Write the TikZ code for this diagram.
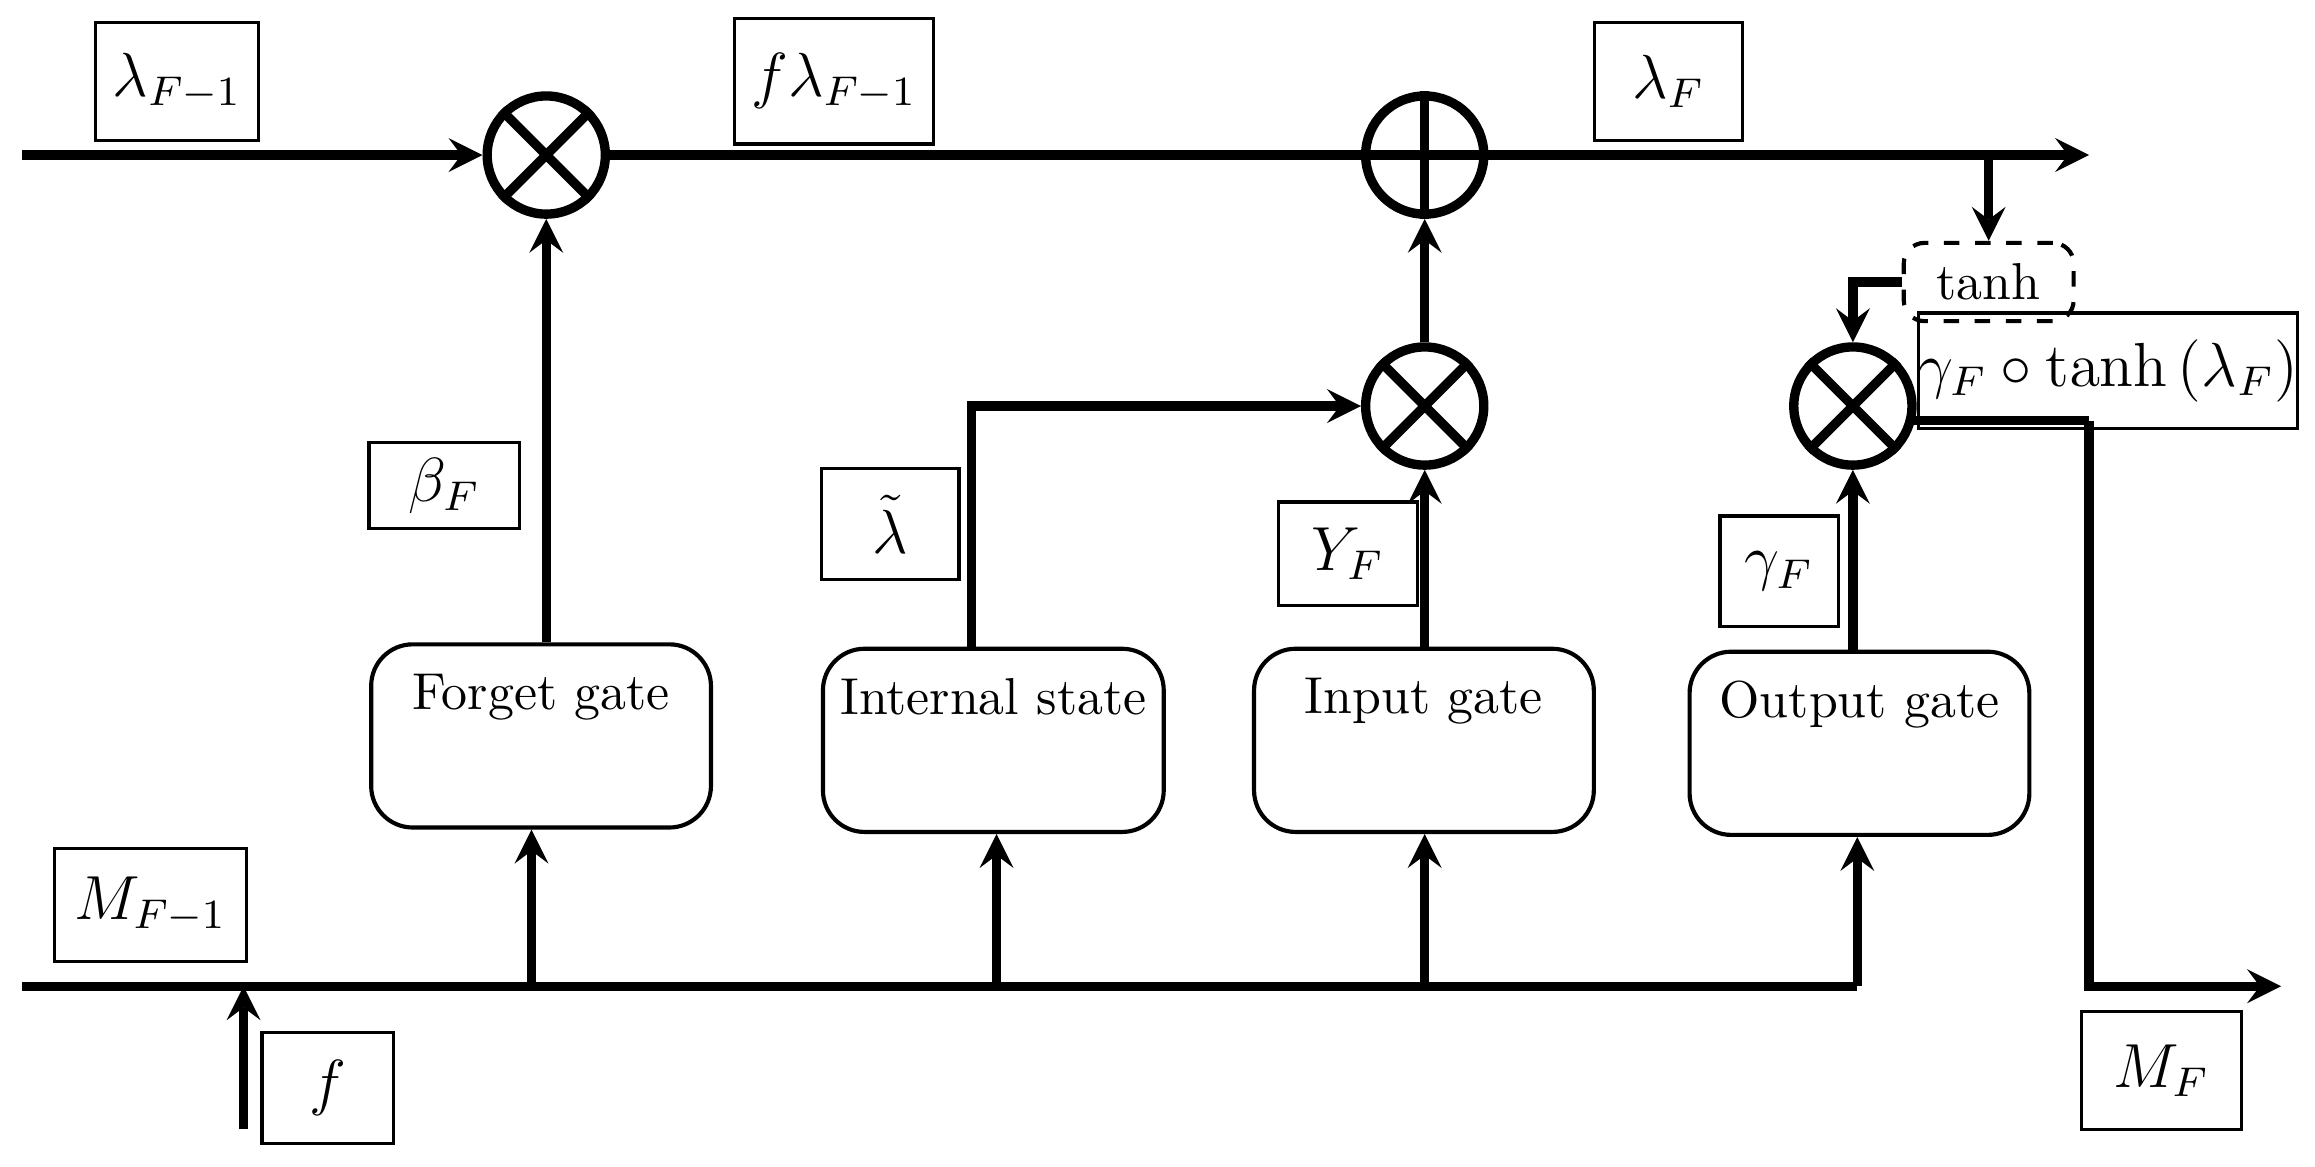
\documentclass[tikz,border=0pt]{standalone}
\usepackage{amsmath,amssymb}
\usepackage{tikz}
\usetikzlibrary{shapes,arrows}
\tikzset{
  flow/.style={line width=1.8pt,->,>=stealth},
  wire/.style={line width=1.8pt},
  lbl/.style={draw,line width=0.6pt,inner sep=0pt,font=\large},
  gate/.style={draw,line width=0.8pt,rounded corners=8pt,minimum width=2.3cm,minimum height=1.24cm,anchor=north west,text depth=0.6cm},
  op/.style={draw,circle,line width=1.8pt,minimum size=0.8cm,inner sep=0pt}
}
\begin{document}
\begin{tikzpicture}[x=0.01cm,y=-0.01cm]
\useasboundingbox (0,0) rectangle (1568,790);

% to draw operators
\node [op] (m1) at (370,105) {};
\draw [line width=1.8pt] (m1.north west) -- (m1.south east) (m1.north east) -- (m1.south west);
\node [op] (p1) at (965,105) {};
\draw [line width=1.8pt] (p1.north) -- (p1.south) (p1.west) -- (p1.east);
\node [op] (m2) at (965,275) {};
\draw [line width=1.8pt] (m2.north west) -- (m2.south east) (m2.north east) -- (m2.south west);
\node [op] (m3) at (1255,275) {};
\draw [line width=1.8pt] (m3.north west) -- (m3.south east) (m3.north east) -- (m3.south west);

% to write gates
\node [gate] (fg) at (250,435) {Forget gate};
\node [gate] (is) at (556,438) {Internal state};
\node [gate] (ig) at (848,438) {Input gate};
\node [gate] (og) at (1143,440) {Output gate};
\node [draw,dashed,line width=0.8pt,rounded corners=4pt,minimum width=1.15cm,minimum height=0.53cm] (th) at (1347,191) {tanh};

% to write labels
\node [lbl,minimum width=1.1cm,minimum height=0.8cm] at (120,55) {$\lambda_{F-1}$};
\node [lbl,minimum width=1.35cm,minimum height=0.85cm] at (565,55) {$f\lambda_{F-1}$};
\node [lbl,minimum width=1.0cm,minimum height=0.8cm] at (1130,55) {$\lambda_F$};
\node [lbl,minimum width=1.02cm,minimum height=0.58cm] at (301,329) {$\beta_F$};
\node [lbl,minimum width=0.93cm,minimum height=0.75cm] at (603,355) {$\tilde{\lambda}$};
\node [lbl,minimum width=0.94cm,minimum height=0.7cm] at (913,375) {$Y_F$};
\node [lbl,minimum width=0.8cm,minimum height=0.75cm] at (1205,387) {$\gamma_F$};
\node [lbl,minimum width=2.55cm,minimum height=0.78cm] at (1428,251) {$\gamma_F\circ\tanh\left(\lambda_F\right)$};
\node [lbl,minimum width=1.3cm,minimum height=0.77cm] at (102,613) {$M_{F-1}$};
\node [lbl,minimum width=0.89cm,minimum height=0.75cm] at (222,737) {$f$};
\node [lbl,minimum width=1.08cm,minimum height=0.8cm] at (1464,725) {$M_F$};

% to draw top line
\coordinate (t0) at (15,105);
\coordinate (t1) at (1415,105);
\draw [flow] (t0) -- (m1);
\draw [wire] (m1) -- (p1);
\draw [flow] (p1) -- (t1);
\draw [flow] (1347,105) -- (th.north);
\draw [flow] (th.west) -| (m3.north);

% to draw bottom line
\coordinate (b0) at (15,668);
\coordinate (b1) at (1258,668);
\draw [wire] (b0) -- (b1);
\draw [flow] (165,765) -- (165,668);
\draw [flow] (360,668) -- (fg.south -| 360,0);
\draw [flow] (675,668) -- (is.south -| 675,0);
\draw [flow] (965,668) -- (ig.south -| 965,0);
\draw [flow] (b1) -- (og.south -| 1258,0);

% to draw gate outputs
\draw [flow] (fg.north -| m1) -- (m1);
\draw [flow] (is.north -| 658,0) |- (m2.west);
\draw [flow] (ig.north -| m2) -- (m2);
\draw [flow] (m2) -- (p1);
\draw [flow] (og.north -| m3) -- (m3);
\draw [wire] (1295,285) -- (1415,285);
\draw [flow] (1415,285) -- (1415,668) -- (1545,668);
\end{tikzpicture}
\end{document}
